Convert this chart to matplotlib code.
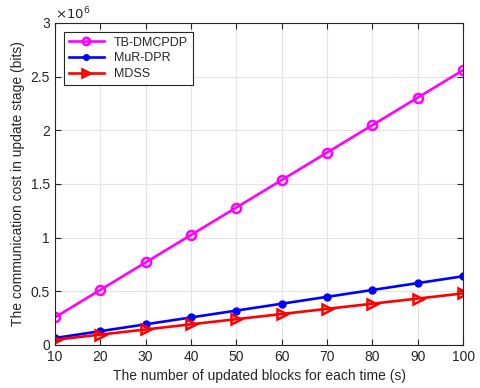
import numpy as np
import matplotlib.pyplot as plt
from matplotlib.ticker import FuncFormatter

plt.rcParams['font.family'] = ['Liberation Sans', 'DejaVu Sans']
plt.rcParams['text.color'] = '#262626'
plt.rcParams['axes.labelcolor'] = '#262626'
plt.rcParams['xtick.color'] = '#262626'
plt.rcParams['ytick.color'] = '#262626'

blocks = [10, 20, 30, 40, 50, 60, 70, 80, 90, 100]
tb_dmcpdp = [0.256e6, 0.512e6, 0.768e6, 1.024e6, 1.28e6, 1.536e6, 1.792e6, 2.048e6, 2.304e6, 2.56e6]
mur_dpr = [0.064e6, 0.128e6, 0.192e6, 0.256e6, 0.32e6, 0.384e6, 0.448e6, 0.512e6, 0.576e6, 0.64e6]
mdss = [0.048e6, 0.096e6, 0.144e6, 0.192e6, 0.24e6, 0.288e6, 0.336e6, 0.384e6, 0.432e6, 0.48e6]

fig = plt.figure(figsize=(4.81, 3.88), dpi=100)
ax = fig.add_axes([0.114, 0.111, 0.849, 0.830])

ax.plot(blocks, tb_dmcpdp, color='#ff00ff', lw=1.9, marker='o', ms=6.5, mfc='none', mew=1.8, label='TB-DMCPDP')
ax.plot(blocks, mur_dpr, color='#0000ff', lw=1.9, marker='o', ms=5, label='MuR-DPR')
ax.plot(blocks, mdss, color='#ff0000', lw=1.9, marker='>', ms=7.5, mfc='none', mew=1.8, label='MDSS')

ax.set_xlim(10, 100)
ax.set_ylim(0, 3e6)
ax.set_xticks(np.arange(10, 101, 10))
ax.set_yticks(np.arange(0, 3.01e6, 0.5e6))
ax.yaxis.set_major_formatter(FuncFormatter(lambda v, p: '%g' % (v / 1e6)))
ax.text(0.0, 1.003, r'$\times10^{6}$', transform=ax.transAxes, fontsize=9.5, ha='left', va='bottom')

ax.grid(True, color='#e3e3e3', lw=0.8)
ax.set_axisbelow(True)
ax.tick_params(direction='in', labelsize=10, top=True, right=True, length=4)
for s in ax.spines.values():
    s.set_linewidth(0.8)
    s.set_color('#262626')

ax.set_xlabel('The number of updated blocks for each time (s)', fontsize=10)
ax.set_ylabel('The communication cost in update stage (bits)', fontsize=10)

leg = ax.legend(loc='upper left', fontsize=9, fancybox=False, edgecolor='#262626', framealpha=1,
                handlelength=2.8, borderaxespad=0.7, labelspacing=0.3, borderpad=0.4, markerscale=0.8)
leg.get_frame().set_linewidth(0.8)

fig.savefig('out.png', dpi=100)
